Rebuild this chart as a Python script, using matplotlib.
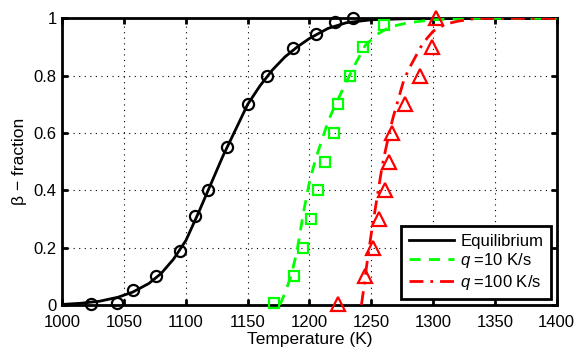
"""Beta-fraction vs temperature: equilibrium and two heating rates."""

import matplotlib
matplotlib.use("Agg")
import matplotlib.pyplot as plt

plt.rcParams["font.family"] = ["Liberation Sans", "DejaVu Sans"]
plt.rcParams["mathtext.fontset"] = "custom"
plt.rcParams["mathtext.it"] = "Liberation Sans:italic"
plt.rcParams["mathtext.rm"] = "Liberation Sans"

# smooth model curves
eq_T = [1000, 1015, 1030, 1045, 1057, 1070, 1080, 1090, 1100, 1110, 1120, 1130,
        1140, 1150, 1160, 1170, 1180, 1190, 1200, 1215, 1230, 1250, 1280, 1320, 1400]
eq_f = [0.002, 0.006, 0.013, 0.027, 0.045, 0.075, 0.11, 0.16, 0.225, 0.32, 0.42, 0.52,
        0.61, 0.70, 0.765, 0.82, 0.865, 0.90, 0.93, 0.965, 0.985, 0.995, 0.999, 1.0, 1.0]

q10_T = [1176, 1180, 1185, 1190, 1195, 1200, 1205, 1210, 1215, 1220, 1225, 1230,
         1237, 1245, 1255, 1265, 1280, 1300, 1330, 1400]
q10_f = [0.0, 0.04, 0.1, 0.19, 0.32, 0.43, 0.51, 0.575, 0.64, 0.69, 0.735, 0.78,
         0.84, 0.905, 0.945, 0.97, 0.985, 0.995, 1.0, 1.0]

q100_T = [1242, 1244, 1246, 1248, 1250, 1253, 1256, 1259, 1262, 1265, 1268, 1272,
          1276, 1280, 1285, 1290, 1295, 1300, 1310, 1320, 1335, 1400]
q100_f = [0.0, 0.06, 0.13, 0.19, 0.25, 0.33, 0.41, 0.49, 0.55, 0.61, 0.66, 0.72,
          0.78, 0.82, 0.86, 0.90, 0.93, 0.955, 0.98, 0.99, 1.0, 1.0]

# measured points
eq_pts_T = [1023, 1044, 1057, 1076, 1095, 1107, 1118, 1133, 1150, 1166, 1187, 1205, 1221, 1235]
eq_pts_f = [0.003, 0.008, 0.052, 0.10, 0.19, 0.31, 0.40, 0.55, 0.70, 0.80, 0.895, 0.947, 0.986, 1.0]

q10_pts_T = [1171, 1187.5, 1195, 1201, 1207, 1212.5, 1220, 1223, 1233, 1243.5, 1260]
q10_pts_f = [0.008, 0.10, 0.20, 0.30, 0.40, 0.50, 0.60, 0.70, 0.80, 0.90, 0.977]

q100_pts_T = [1223, 1245, 1251, 1256, 1261, 1264.5, 1267, 1277, 1289.5, 1299, 1302]
q100_pts_f = [0.005, 0.10, 0.20, 0.30, 0.40, 0.50, 0.60, 0.70, 0.80, 0.90, 1.0]

GREEN = "#00ff00"
RED = "#ff0000"

fig = plt.figure(figsize=(5.81, 3.53), dpi=100)
ax = fig.add_axes([0.1072, 0.136, 0.851, 0.812])

ax.plot(eq_T, eq_f, "-", color="black", lw=2, label="Equilibrium", zorder=3)
ax.plot(q10_T, q10_f, "--", color=GREEN, lw=2, dashes=(4, 3), label="$q$ =10 K/s", zorder=3)
ax.plot(q100_T, q100_f, "-.", color=RED, lw=2, dashes=(5, 2.5, 1, 2.5),
        label="$q$ =100 K/s", zorder=3)

ax.plot(eq_pts_T, eq_pts_f, "o", mfc="none", mec="black", mew=1.6, ms=8,
        clip_on=False, zorder=4)
ax.plot(q10_pts_T, q10_pts_f, "s", mfc="none", mec=GREEN, mew=1.6, ms=6.5,
        clip_on=False, zorder=4)
ax.plot(q100_pts_T, q100_pts_f, "^", mfc="none", mec=RED, mew=1.6, ms=10,
        clip_on=False, zorder=4)

ax.set_xlim(1000, 1400)
ax.set_ylim(0, 1)
ax.set_xticks(range(1000, 1401, 50))
ax.set_yticks([0, 0.2, 0.4, 0.6, 0.8, 1])
ax.set_yticklabels(["0", "0.2", "0.4", "0.6", "0.8", "1"])
ax.tick_params(direction="in", top=True, right=True, width=2, length=4, labelsize=12)
ax.tick_params(axis="x", pad=7)
ax.tick_params(axis="y", pad=4)
ax.grid(True, color="black", linestyle=(0, (1, 4)), linewidth=0.8)
for s in ax.spines.values():
    s.set_linewidth(2)

ax.set_xlabel("Temperature (K)", fontsize=12.5, labelpad=2)
ax.set_ylabel("β − fraction", fontsize=12.5, labelpad=5)

leg = ax.legend(loc="lower right", fontsize=12, frameon=True, fancybox=False,
                handlelength=2.7, borderpad=0.45, labelspacing=0.15,
                handletextpad=0.4, borderaxespad=0.35)
leg.get_frame().set_edgecolor("black")
leg.get_frame().set_linewidth(2)
leg.get_frame().set_alpha(1)
leg.set_zorder(5)

fig.savefig("out.png", dpi=100)
